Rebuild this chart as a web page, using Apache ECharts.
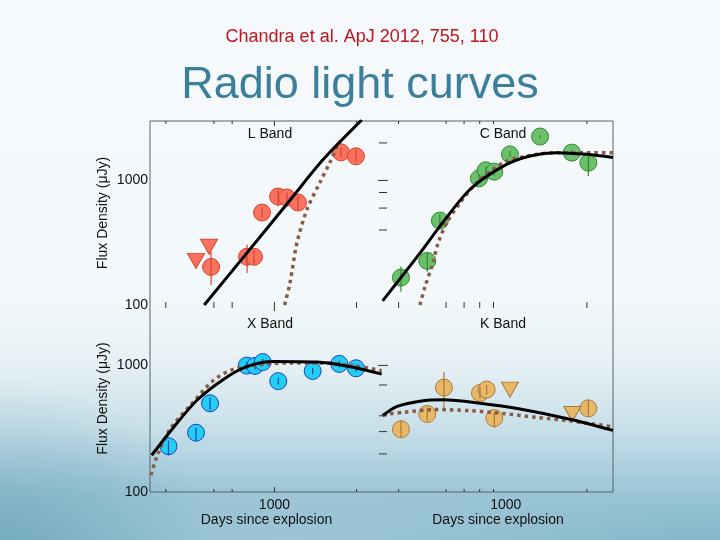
<!DOCTYPE html>
<html>
<head>
<meta charset="utf-8">
<script src="https://cdn.jsdelivr.net/npm/echarts@6/dist/echarts.min.js"></script>
<style>
html,body{margin:0;padding:0;width:720px;height:540px;overflow:hidden;}
body{
  background:
    radial-gradient(ellipse 260px 200px at 0% 100%, rgba(90,150,175,0.45), rgba(90,150,175,0) 80%),
    radial-gradient(ellipse 620px 70px at 40% 101%, rgba(255,255,255,0.25), rgba(255,255,255,0) 80%),
    linear-gradient(to bottom, #f6f9fb 0%, #f3f8fa 55%, #e7f1f5 67%, #c9e0e9 79%, #a3cad9 89%, #7fb4c9 100%);
}
#c{width:720px;height:540px;}
</style>
</head>
<body>
<div id="c"></div>
<script>
// ---------------- data ----------------
// [days since explosion, flux density (uJy)]
const L_det = [[586,202],[794,244],[842,244],[901,552],[1031,743],[1112,729],[1220,665],[1753,1681],[1990,1562]];
const L_lim = [[516,226],[576,294]];
const L_err = [[586,145,267],[794,181,305],[842,215,275],[901,505,605],[1031,617,845],[1112,640,800],[1220,580,745],[1753,1530,1840],[1990,1400,1770]];
const L_fit = [[553,100],[792,261],[1140,693],[1511,1476],[2090,3060]];
const L_alt = [[1090,100],[1140,150],[1210,316],[1316,583],[1468,963],[1598,1397],[1711,1950],[1745,2060]];

const C_det = [[408,166],[511,226],[569,476],[795,1038],[842,1205],[906,1175],[1036,1618],[1340,2250],[1757,1672],[2025,1389]];
const C_err = [[408,128,204],[511,185,262],[569,418,532],[795,960,1120],[842,1120,1290],[906,1090,1260],[1036,1540,1720],[1340,2180,2320],[1757,1600,1750],[2025,1084,1570]];
const C_fit = [[349,108],[480,261],[569,428],[736,846],[979,1303],[1230,1570],[1545,1672],[1996,1620],[2500,1525]];
const C_alt = [[480,100],[501,140],[531,204],[561,315],[603,456],[676,661],[780,957],[979,1390],[1196,1570],[1545,1672],[1996,1672],[2500,1672]];

const X_det = [[409,230],[516,294],[581,502],[792,996],[849,991],[906,1062],[1033,751],[1381,903],[1729,1028],[1990,949]];
const X_err = [[409,195,255],[516,255,322],[581,445,560],[792,935,1060],[849,930,1055],[906,1000,1130],[1033,705,800],[1381,850,960],[1729,970,1090],[1990,890,1010]];
const X_fit = [[355,195],[426,322],[519,528],[650,775],[792,977],[991,1072],[1429,1062],[1892,977],[2472,855]];
const X_alt = [[353,136],[371,191],[415,315],[491,480],[597,760],[707,930],[912,1020],[1141,1045],[1510,1045],[2002,985],[2472,908]];

const K_det = [[408,313],[511,413],[589,668],[802,605],[849,644],[906,384],[2025,458]];
const K_lim = [[1036,644],[1766,413]];
const K_err = [[408,268,365],[511,365,466],[589,453,892],[802,545,680],[849,590,700],[906,322,425],[2025,400,528]];
const K_fit = [[349,400],[393,473],[480,522],[586,535],[802,503],[1129,453],[1730,376],[2500,307]];
const K_alt = [[349,408],[416,426],[554,448],[736,439],[979,417],[1302,388],[1730,365],[2500,327]];

// axis ranges and tick values
const X_RANGE = [350, 2500];
const Y_RANGE = [100, 3000];
const xTicksLeft = [400, 600, 700, 1000, 2000];
const xTicksRight = [400, 600, 700, 800, 900, 2000];
const yTicksTopRight = [400, 600, 800, 1000, 2000];
const yTicksBottomRight = [200, 300, 400, 700, 1000];

const bandNames = ['L Band', 'C Band', 'X Band', 'K Band'];
const titleText = 'Radio light curves';
const citeText = 'Chandra et al. ApJ 2012, 755, 110';
const xName = 'Days since explosion';
const yName = 'Flux Density (\u03bcJy)';

// ---------------- chart ----------------
const FONT = '"Liberation Sans", Arial, Helvetica, sans-serif';
const chart = echarts.init(document.getElementById('c'), null, {renderer: 'canvas'});

function decadeLabel(v) {
  const l = Math.log10(v);
  return Math.abs(l - Math.round(l)) < 1e-6 ? String(Math.round(Math.pow(10, Math.round(l)))) : '';
}

const grids = [
  {left: 150, top: 121, width: 233, height: 184},
  {left: 383, top: 121, width: 230, height: 184},
  {left: 150, top: 305, width: 233, height: 187},
  {left: 383, top: 305, width: 230, height: 187},
  {left: 150, top: 121, width: 463, height: 371, show: true, borderColor: '#56626b', borderWidth: 1, backgroundColor: 'transparent'}
].map(g => Object.assign({outerBoundsMode: 'none', containLabel: false}, g));

const textStyle = {color: '#111', fontSize: 14, fontFamily: FONT};

function xAx(gi, showLabel) {
  return {
    type: 'log', logBase: 10, gridIndex: gi, min: X_RANGE[0], max: X_RANGE[1],
    axisLine: {show: false}, axisTick: {show: false}, splitLine: {show: false}, minorTick: {show: false},
    axisLabel: Object.assign({show: showLabel, formatter: decadeLabel, margin: 6, hideOverlap: false}, textStyle),
    name: showLabel ? xName : '', nameLocation: 'middle', nameGap: 21, nameTextStyle: textStyle
  };
}
function yAx(gi, showLabel) {
  return {
    type: 'log', logBase: 10, gridIndex: gi, min: Y_RANGE[0], max: Y_RANGE[1],
    axisLine: {show: false}, axisTick: {show: false}, splitLine: {show: false}, minorTick: {show: false},
    axisLabel: Object.assign({show: showLabel, formatter: decadeLabel, margin: 2, hideOverlap: false}, textStyle),
    name: showLabel ? yName : '', nameLocation: 'middle', nameGap: 40, nameTextStyle: textStyle
  };
}

const xAxes = [xAx(0, false), xAx(1, false), xAx(2, true), xAx(3, true),
  {type: 'value', gridIndex: 4, show: false, min: 0, max: 1}];
const yAxes = [yAx(0, true), yAx(1, false), yAx(2, true), yAx(3, false),
  {type: 'value', gridIndex: 4, show: false, min: 0, max: 1}];

function errRender(color) {
  return function (params, api) {
    const x = api.value(0);
    const p1 = api.coord([x, api.value(1)]);
    const p2 = api.coord([x, api.value(2)]);
    return {type: 'line', shape: {x1: p1[0], y1: p1[1], x2: p2[0], y2: p2[1]},
      style: {stroke: color, lineWidth: 1.2}};
  };
}

// tick marks drawn through the axis scales: mode 'up','down','both' for x ticks; 'h' for y ticks
function tickSeries(gi, data, mode) {
  return {
    type: 'custom', xAxisIndex: gi, yAxisIndex: gi, silent: true, z: 10, clip: false,
    data: data,
    encode: {x: 0, y: 1},
    renderItem: function (params, api) {
      const p = api.coord([api.value(0), api.value(1)]);
      const major = (mode === 'h' ? api.value(1) : api.value(0)) === 1000;
      let s;
      if (mode === 'up') s = {x1: p[0], y1: p[1], x2: p[0], y2: p[1] - (major ? 5 : 3)};
      else if (mode === 'down') s = {x1: p[0], y1: p[1], x2: p[0], y2: p[1] + (major ? 5 : 3)};
      else if (mode === 'both') s = {x1: p[0], y1: p[1] - 3, x2: p[0], y2: p[1] + (major ? 6 : 3)};
      else s = {x1: p[0] - (major ? 5 : 4), y1: p[1], x2: p[0] + (major ? 5 : 4), y2: p[1]};
      return {type: 'line', shape: s, style: {stroke: '#333', lineWidth: 1}};
    }
  };
}

function band(gi, det, lim, err, fit, alt, fill, stroke) {
  const out = [
    {type: 'scatter', xAxisIndex: gi, yAxisIndex: gi, data: det, symbol: 'circle', symbolSize: 17,
      itemStyle: {color: fill, borderColor: stroke, borderWidth: 1, opacity: 1}, z: 3, silent: true}
  ];
  if (lim) out.push({type: 'scatter', xAxisIndex: gi, yAxisIndex: gi, data: lim, symbol: 'triangle',
      symbolRotate: 180, symbolSize: [17, 15],
      itemStyle: {color: fill, borderColor: stroke, borderWidth: 1, opacity: 1}, z: 3, silent: true});
  out.push({type: 'custom', xAxisIndex: gi, yAxisIndex: gi, data: err, encode: {x: 0, y: [1, 2]},
      renderItem: errRender(stroke), z: 4, silent: true});
  out.push({type: 'line', xAxisIndex: gi, yAxisIndex: gi, data: alt, symbol: 'none', smooth: 0.3,
      lineStyle: {color: '#8b5a44', width: 3.5, type: [3.5, 4], cap: 'butt'}, z: 5, silent: true});
  out.push({type: 'line', xAxisIndex: gi, yAxisIndex: gi, data: fit, symbol: 'none', smooth: 0.3,
      lineStyle: {color: '#000', width: 3}, z: 6, silent: true});
  return out;
}

const series = [].concat(
  band(0, L_det, L_lim, L_err, L_fit, L_alt, '#f7735f', '#e0402c'),
  band(1, C_det, null, C_err, C_fit, C_alt, '#6cc06c', '#2e8b2e'),
  band(2, X_det, null, X_err, X_fit, X_alt, '#22cff0', '#1c40d0'),
  band(3, K_det, K_lim, K_err, K_fit, K_alt, '#e9b866', '#a87b3c'),
  [
    tickSeries(0, xTicksLeft.map(v => [v, Y_RANGE[0]]), 'both'),
    tickSeries(0, xTicksLeft.map(v => [v, Y_RANGE[1]]), 'down'),
    tickSeries(1, xTicksRight.map(v => [v, Y_RANGE[0]]), 'both'),
    tickSeries(1, xTicksRight.map(v => [v, Y_RANGE[1]]), 'down'),
    tickSeries(2, xTicksLeft.map(v => [v, Y_RANGE[0]]), 'up'),
    tickSeries(3, xTicksRight.map(v => [v, Y_RANGE[0]]), 'up'),
    tickSeries(1, yTicksTopRight.map(v => [X_RANGE[0], v]), 'h'),
    tickSeries(3, yTicksBottomRight.map(v => [X_RANGE[0], v]), 'h')
  ]
);

const graphic = [
  {type: 'text', x: 362, y: 37, style: {text: citeText, fill: '#c0141e', font: '18px ' + FONT, align: 'center', verticalAlign: 'middle'}},
  {type: 'text', x: 360, y: 86, style: {text: titleText, fill: '#3b7f9c', font: '45px ' + FONT, align: 'center', verticalAlign: 'middle'}},
  {type: 'text', x: 270, y: 134, style: {text: bandNames[0], fill: '#111', font: '14px ' + FONT, align: 'center', verticalAlign: 'middle'}},
  {type: 'text', x: 503, y: 134, style: {text: bandNames[1], fill: '#111', font: '14px ' + FONT, align: 'center', verticalAlign: 'middle'}},
  {type: 'text', x: 270, y: 324, style: {text: bandNames[2], fill: '#111', font: '14px ' + FONT, align: 'center', verticalAlign: 'middle'}},
  {type: 'text', x: 503, y: 324, style: {text: bandNames[3], fill: '#111', font: '14px ' + FONT, align: 'center', verticalAlign: 'middle'}}
];

chart.setOption({
  backgroundColor: 'transparent',
  animation: false,
  grid: grids,
  xAxis: xAxes,
  yAxis: yAxes,
  series: series,
  graphic: graphic
});
</script>
</body>
</html>
